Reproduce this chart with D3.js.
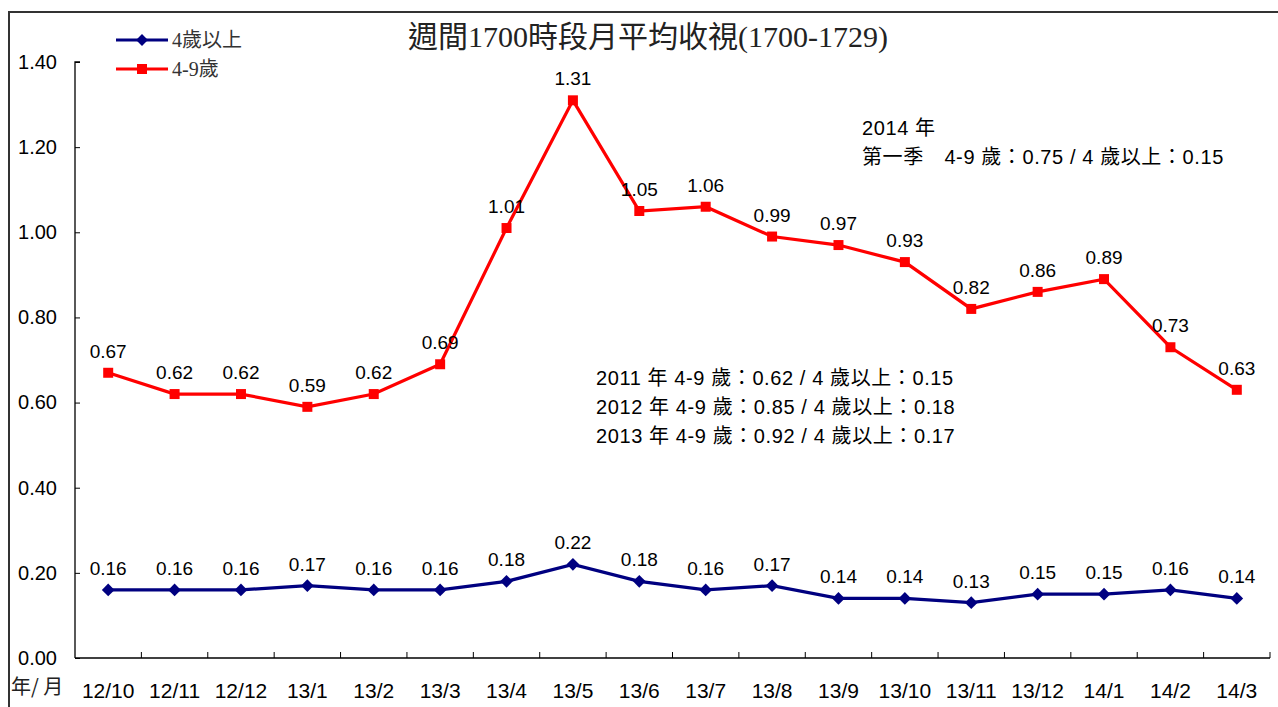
<!DOCTYPE html>
<meta charset="utf-8">
<style>
  body { margin: 0; background: #fff; }
</style>
<svg width="1278" height="707"></svg>
<script src="https://d3js.org/d3.v7.min.js"></script>
<script>

var months = ["12/10","12/11","12/12","13/1","13/2","13/3","13/4","13/5","13/6","13/7","13/8","13/9","13/10","13/11","13/12","14/1","14/2","14/3"],
    above4 = [0.16,0.16,0.16,0.17,0.16,0.16,0.18,0.22,0.18,0.16,0.17,0.14,0.14,0.13,0.15,0.15,0.16,0.14],
    age49  = [0.67,0.62,0.62,0.59,0.62,0.69,1.01,1.31,1.05,1.06,0.99,0.97,0.93,0.82,0.86,0.89,0.73,0.63],
    yTicks = [0,0.2,0.4,0.6,0.8,1.0,1.2,1.4],
    notes2014 = ["2014 年", "第一季　4-9 歲：0.75 / 4 歲以上：0.15"],
    notesYears = ["2011 年 4-9 歲：0.62 / 4 歲以上：0.15",
                  "2012 年 4-9 歲：0.85 / 4 歲以上：0.18",
                  "2013 年 4-9 歲：0.92 / 4 歲以上：0.17"];

var SANS = "'Liberation Sans', Arial, 'Noto Sans CJK TC', sans-serif",
    SERIF = "'Liberation Serif', 'Noto Sans CJK TC', serif";

var svg = d3.select("svg").style("font-family", SANS);

// outer frame (cut off at right / bottom)
svg.append("path")
    .attr("d", "M9,720V12H1290")
    .attr("fill", "none").attr("stroke", "#333").attr("stroke-width", 2);

var x = d3.scaleBand().domain(months).range([75, 1270]),
    y = d3.scaleLinear().domain([0, 1.4]).range([658, 62]);

// y axis: ticks point inward
var gy = svg.append("g").attr("transform", "translate(75,0)")
    .call(d3.axisRight(y).tickValues(yTicks).tickSize(5).tickFormat(d3.format(".2f")));
gy.select(".domain").attr("stroke", "#000").attr("stroke-width", 1.3).attr("d", "M5,62H0V658");
gy.selectAll(".tick line").attr("stroke", "#000");
gy.selectAll(".tick text").attr("x", -18).attr("text-anchor", "end")
    .attr("fill", "#000").style("font-size", "20px").style("font-family", SANS);

// x axis: ticks at band edges pointing up
var gx = svg.append("g").attr("transform", "translate(0,658)");
gx.append("line").attr("x1", 75).attr("x2", 1270).attr("stroke", "#000").attr("stroke-width", 1.3);
gx.selectAll(".edge").data(months).enter().append("line")
    .attr("x1", function(d) { return x(d) + x.bandwidth(); })
    .attr("x2", function(d) { return x(d) + x.bandwidth(); })
    .attr("y1", 0).attr("y2", -6).attr("stroke", "#000");
gx.selectAll(".lab").data(months).enter().append("text")
    .attr("x", function(d) { return x(d) + x.bandwidth() / 2; })
    .attr("y", 40).attr("text-anchor", "middle").attr("fill", "#000")
    .style("font-size", "21px")
    .text(function(d) { return d; });

svg.append("text").attr("x", 11).attr("y", 694).attr("fill", "#222")
    .style("font-size", "20px").style("font-family", "'Noto Sans CJK TC', sans-serif").text("年/ 月");

var cx = function(d, i) { return x(months[i]) + x.bandwidth() / 2; };
var line = d3.line().x(cx).y(function(d) { return y(d); });

function series(data, color, diamond) {
  svg.append("path").datum(data).attr("d", line)
      .attr("fill", "none").attr("stroke", color).attr("stroke-width", 3.2);
  var sym = d3.symbol().type(d3.symbolSquare).size(diamond ? 80 : 100);
  svg.selectAll(null).data(data).enter().append("path")
      .attr("d", sym)
      .attr("transform", function(d, i) {
        return "translate(" + cx(d, i) + "," + y(d) + ")" + (diamond ? "rotate(45)" : "");
      })
      .attr("fill", color);
  svg.selectAll(null).data(data).enter().append("text")
      .attr("x", cx).attr("y", function(d) { return y(d) - 15; })
      .attr("text-anchor", "middle").attr("fill", "#000").style("font-size", "19px")
      .text(function(d) { return d.toFixed(2); });
}
series(age49, "#ff0000", false);
series(above4, "#000080", true);

// title
svg.append("text").attr("x", 648).attr("y", 47).attr("text-anchor", "middle")
    .attr("fill", "#222").style("font-size", "30px").style("font-family", SERIF)
    .text("週間1700時段月平均收視(1700-1729)");

// legend
var legend = [{name: "4歲以上", color: "#000080", diamond: true}, {name: "4-9歲", color: "#ff0000", diamond: false}];
var lg = svg.selectAll(".lg").data(legend).enter().append("g")
    .attr("transform", function(d, i) { return "translate(116," + (40 + i * 29) + ")"; });
lg.append("line").attr("x1", 0).attr("x2", 52).attr("stroke", function(d) { return d.color; }).attr("stroke-width", 3.2);
lg.append("path").attr("d", function(d) { return d3.symbol().type(d3.symbolSquare).size(d.diamond ? 70 : 100)(); })
    .attr("transform", function(d) { return "translate(26,0)" + (d.diamond ? "rotate(45)" : ""); })
    .attr("fill", function(d) { return d.color; });
lg.append("text").attr("x", 56).attr("y", 7).attr("fill", "#333")
    .style("font-size", "20px").style("font-family", SERIF)
    .text(function(d) { return d.name; });

// notes
svg.selectAll(".n1").data(notes2014).enter().append("text")
    .attr("x", 862).attr("y", function(d, i) { return 135 + i * 29; })
    .attr("fill", "#000").style("font-size", "20px").style("letter-spacing", "0.6px")
    .text(function(d) { return d; });
svg.selectAll(".n2").data(notesYears).enter().append("text")
    .attr("x", 596).attr("y", function(d, i) { return 385 + i * 29; })
    .attr("fill", "#000").style("font-size", "20px").style("letter-spacing", "0.6px")
    .text(function(d) { return d; });

</script>
